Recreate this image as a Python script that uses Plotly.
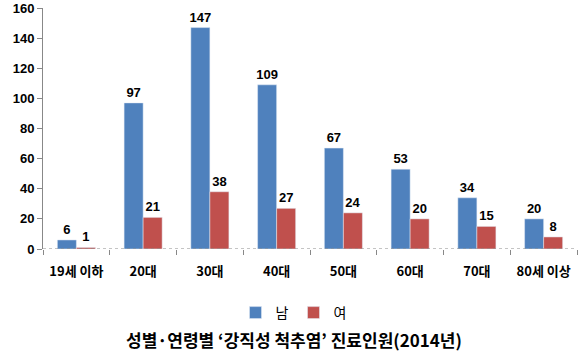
import plotly.graph_objects as go

categories = ["19세 이하", "20대", "30대", "40대", "50대", "60대", "70대", "80세 이상"]
male = [6, 97, 147, 109, 67, 53, 34, 20]
female = [1, 21, 38, 27, 24, 20, 15, 8]
y_ticks = [0, 20, 40, 60, 80, 100, 120, 140, 160]

FONT = "Liberation Sans, Noto Sans CJK KR, sans-serif"

fig = go.Figure()
fig.add_trace(go.Bar(name="남", x=categories, y=male, marker_color="#4F81BD",
                     text=male, textposition="outside", cliponaxis=False,
                     constraintext="none",
                     textfont=dict(family=FONT, size=13, color="black")))
fig.add_trace(go.Bar(name="여", x=categories, y=female, marker_color="#C0504D",
                     text=female, textposition="outside", cliponaxis=False,
                     constraintext="none",
                     textfont=dict(family=FONT, size=13, color="black")))

fig.update_layout(
    width=587, height=354,
    margin=dict(l=43, r=10, t=8, b=105, autoexpand=False),
    paper_bgcolor="white", plot_bgcolor="white",
    barmode="group", bargap=0.43, bargroupgap=0,
    font=dict(family=FONT, size=12, color="black"),
    showlegend=True,
    legend=dict(orientation="h", x=0.5, xanchor="center", xref="container",
                y=1 - 313 / 354, yanchor="middle", yref="container",
                font=dict(family="Noto Sans CJK KR", size=14), itemwidth=30,
                traceorder="normal"),
    annotations=[dict(text="<b>성별·연령별 ‘강직성 척추염’ 진료인원(2014년)</b>",
                      xref="paper", yref="paper", x=0.47, y=(249 - 339) / 241,
                      showarrow=False, xanchor="center", yanchor="middle",
                      font=dict(family="Noto Sans CJK KR", size=17, color="black"))],
    shapes=[dict(type="line", xref="paper", yref="y", x0=0, x1=1, y0=0, y1=0,
                 line=dict(color="#888888", width=1, dash="dot"))],
)
fig.update_xaxes(type="category", range=[-0.5, 7.5], showline=False,
                 ticks="outside", tickson="boundaries", ticklen=5, tickcolor="#888888",
                 ticklabelstandoff=13,
                 tickfont=dict(family="Noto Sans CJK KR", size=13, weight="bold"),
                 showgrid=False)
fig.update_yaxes(range=[0, 160], tickvals=y_ticks, showline=True, linecolor="#888888",
                 linewidth=1, ticks="outside", ticklen=5, tickcolor="#888888",
                 showgrid=False, zeroline=False,
                 tickfont=dict(family=FONT, size=13, weight="bold"))
fig.update_traces(textfont_weight="bold")

fig.write_html("out.html")
